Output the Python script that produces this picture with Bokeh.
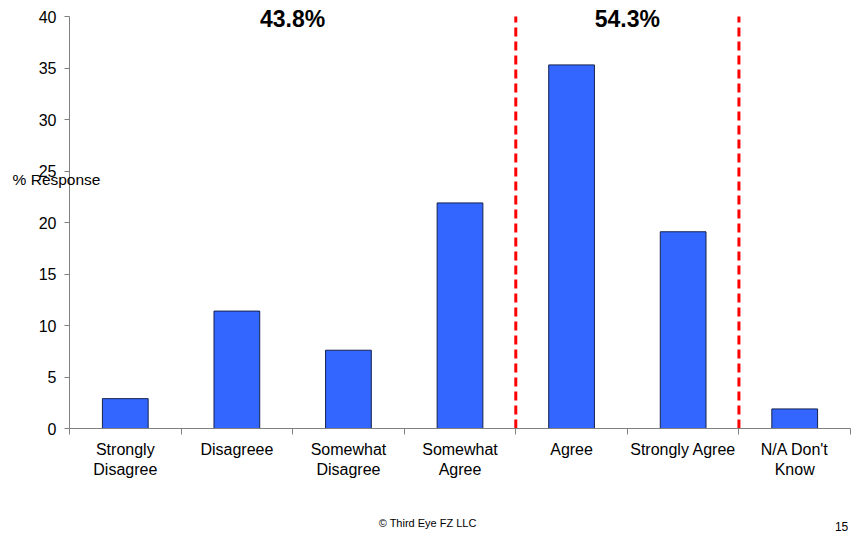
from bokeh.plotting import figure
from bokeh.models import Range1d, FixedTicker, Label, ColumnDataSource
from bokeh.embed import file_html
from bokeh.resources import INLINE

categories = ["Strongly\nDisagree", "Disagreee", "Somewhat\nDisagree", "Somewhat\nAgree",
              "Agree", "Strongly Agree", "N/A Don't\nKnow"]
values = [2.9, 11.4, 7.6, 21.9, 35.3, 19.1, 1.9]
group_labels = ["43.8%", "54.3%"]
group_sizes = [4, 2, 1]          # disagree side, agree side, N/A
y_ticks = [0, 5, 10, 15, 20, 25, 30, 35, 40]

FONT = "Liberation Sans"
n = len(categories)
centers = [i + 0.5 for i in range(n)]
y_max = y_ticks[-1]

p = figure(width=857, height=533, output_backend="svg", toolbar_location=None,
           x_range=Range1d(0, n), y_range=Range1d(0, y_max + 16 / 10.3),
           min_border_left=69, min_border_right=7, min_border_top=0, min_border_bottom=105)
p.outline_line_color = None
p.xgrid.grid_line_color = None
p.ygrid.grid_line_color = None

src = ColumnDataSource(dict(x=centers, top=values))
p.vbar(x="x", top="top", width=0.41, bottom=0, source=src,
       fill_color="#3366FF", line_color="#16224d", line_width=1)

# x axis
xa = p.xaxis[0]
xa.ticker = FixedTicker(ticks=centers, minor_ticks=list(range(n + 1)))
xa.major_label_overrides = {c: lab for c, lab in zip(centers, categories)}
xa.major_tick_line_color = None
xa.major_tick_out = 6
xa.major_tick_in = 0
xa.minor_tick_line_color = "#808080"
xa.minor_tick_out = 6
xa.minor_tick_in = 0
xa.axis_line_color = "#808080"
xa.major_label_text_font = FONT
xa.major_label_text_font_size = "16px"
xa.major_label_text_color = "black"
xa.major_label_standoff = 6

# y axis
ya = p.yaxis[0]
ya.ticker = FixedTicker(ticks=y_ticks)
ya.bounds = (0, y_max)
ya.minor_tick_line_color = None
ya.major_tick_out = 5
ya.major_tick_in = 0
ya.major_tick_line_color = "#808080"
ya.axis_line_color = "#808080"
ya.major_label_text_font = FONT
ya.major_label_text_font_size = "16px"
ya.major_label_text_color = "black"
ya.major_label_standoff = 8

# dashed separators between the groups
b1 = group_sizes[0]
b2 = group_sizes[0] + group_sizes[1]
p.segment(x0=[b1, b2], y0=[0, 0], x1=[b1, b2], y1=[y_max, y_max],
          line_color="#FF0000", line_dash="9 5", line_width=3)

# group percentages
p.text(x=[b1 / 2, (b1 + b2) / 2], y=[y_max - 0.2, y_max - 0.2], text=group_labels,
       text_font={"value": FONT}, text_font_size="23px", text_font_style="bold",
       text_align="center", text_baseline="middle", text_color="black")

# labels outside the frame: placed in the bottom panel so they are not clipped
p.add_layout(Label(x=-0.51, y=24.2, text="% Response", text_font=FONT, text_font_size="15.5px",
                   text_align="left", text_baseline="middle", text_color="black"), "below")
p.add_layout(Label(x=3.21, y=-9.2, text="© Third Eye FZ LLC", text_font=FONT,
                   text_font_size="11px", text_align="center", text_baseline="middle",
                   text_color="black"), "below")
p.add_layout(Label(x=6.98, y=-9.5, text="15", text_font=FONT,
                   text_font_size="12px", text_align="right", text_baseline="middle",
                   text_color="black"), "below")

open("out.html", "w").write(file_html(p, INLINE))
